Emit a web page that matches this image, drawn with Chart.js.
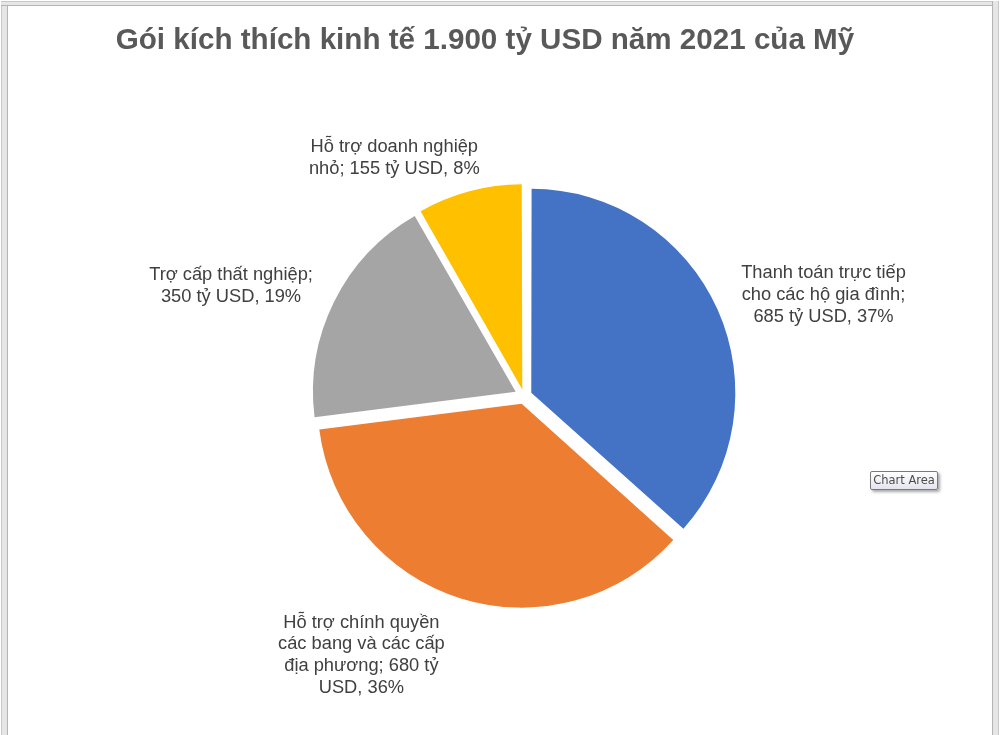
<!DOCTYPE html>
<html>
<head>
<meta charset="utf-8">
<script src="https://cdn.jsdelivr.net/npm/chart.js@4"></script>
<style>
  html, body { margin: 0; padding: 0; background: #fff; }
  #wrap { position: relative; width: 1000px; height: 735px; overflow: hidden; }
  #c { position: absolute; left: 0; top: 0; }
  .frame { position: absolute; background: #e6e6e6; }
  #frameLeft { left: 1px; top: 1px; width: 5px; height: 740px; border-left: 1px solid #c8c8c8; border-right: 1px solid #b4b4b4; }
  #frameTop { left: 1px; top: 1px; width: 997px; height: 3px; border-top: 1px solid #c8c8c8; border-bottom: 1px solid #b4b4b4; }
  #frameRight { left: 992px; top: 1px; width: 5px; height: 740px; border-left: 1px solid #b4b4b4; border-right: 1px solid #c8c8c8; }
  #hint {
    position: absolute; left: 870px; top: 471px; width: 66px; height: 17px;
    border: 1px solid #7a7a7a; border-radius: 2px;
    background: linear-gradient(#ffffff, #e4e5ee);
    box-shadow: 2px 2px 3px rgba(0,0,0,0.35);
    font: 11.5px "DejaVu Sans", sans-serif; color: #4d4d4d;
    text-align: center; line-height: 17px;
  }
</style>
</head>
<body>
<div id="wrap">
  <canvas id="c" width="1000" height="735"></canvas>
  <div class="frame" id="frameLeft"></div>
  <div class="frame" id="frameTop"></div>
  <div class="frame" id="frameRight"></div>
  <div id="hint">Chart Area</div>
</div>
<script>
// dữ liệu gói kích thích (tỷ USD)
const titleText = 'Gói kích thích kinh tế 1.900 tỷ USD năm 2021 của Mỹ';
const categories = [
  'Thanh toán trực tiếp cho các hộ gia đình',
  'Hỗ trợ chính quyền các bang và các cấp địa phương',
  'Trợ cấp thất nghiệp',
  'Hỗ trợ doanh nghiệp nhỏ'
];
const values = [685, 680, 350, 155];
const unit = 'tỷ USD';
const colors = ['#4472C4', '#ED7D31', '#A5A5A5', '#FFC000'];

// vị trí nhãn: góc (độ, theo chiều kim đồng hồ từ đỉnh) và khoảng cách từ tâm
const labelAngle = [71.4, 212.1, 290.6, 331.4];
const labelDist = [316, 306, 313, 271];

const total = values.reduce((s, v) => s + v, 0);
const GAP = 10;       // độ tách của từng miếng
const WRAP = 184;     // bề rộng tối đa của nhãn
const LINE_H = 21.8;

function wrapText(ctx, text, maxW) {
  const words = text.split(' ');
  const lines = [];
  let cur = '';
  words.forEach(w => {
    const t = cur ? cur + ' ' + w : w;
    if (cur && ctx.measureText(t).width > maxW) {
      lines.push(cur);
      cur = w;
    } else {
      cur = t;
    }
  });
  if (cur) lines.push(cur);
  return lines;
}

const titlePlugin = {
  id: 'titleText',
  afterDraw(chart) {
    const ctx = chart.ctx;
    ctx.save();
    ctx.font = 'bold 29.6px "Liberation Sans", Arial, sans-serif';
    ctx.fillStyle = '#595959';
    ctx.textAlign = 'center';
    ctx.textBaseline = 'middle';
    ctx.fillText(titleText, 485, 41);
    ctx.restore();
  }
};

const labelPlugin = {
  id: 'sliceLabels',
  afterDatasetsDraw(chart) {
    const ctx = chart.ctx;
    const arcs = chart.getDatasetMeta(0).data;
    ctx.save();
    ctx.font = '18.3px "Liberation Sans", Arial, sans-serif';
    ctx.fillStyle = '#404040';
    ctx.textAlign = 'center';
    ctx.textBaseline = 'middle';
    arcs.forEach((arc, i) => {
      const pct = Math.round(values[i] / total * 100);
      const text = categories[i] + '; ' + values[i] + ' ' + unit + ', ' + pct + '%';
      const lines = wrapText(ctx, text, WRAP);
      const a = labelAngle[i] * Math.PI / 180;
      const cx = arc.x + Math.sin(a) * labelDist[i];
      const cy = arc.y - Math.cos(a) * labelDist[i];
      lines.forEach((ln, k) => {
        ctx.fillText(ln, cx, cy + (k - (lines.length - 1) / 2) * LINE_H);
      });
    });
    ctx.restore();
  }
};

new Chart(document.getElementById('c'), {
  type: 'pie',
  data: {
    labels: categories,
    datasets: [{
      data: values,
      backgroundColor: colors,
      borderWidth: 0,
      // Chart.js dịch miếng theo offset/4*(2-sin(góc)), bù lại để mọi miếng tách đều
      offset: (c) => {
        const circ = 2 * Math.PI * values[c.dataIndex] / total;
        return 4 * GAP / (2 - Math.sin(Math.min(Math.PI, circ)));
      }
    }]
  },
  options: {
    responsive: false,
    animation: false,
    events: [],
    radius: 202,
    layout: { padding: { left: 48, right: 0, top: 57, bottom: 0 } },
    plugins: {
      legend: { display: false },
      tooltip: { enabled: false }
    }
  },
  plugins: [titlePlugin, labelPlugin]
});
</script>
</body>
</html>
